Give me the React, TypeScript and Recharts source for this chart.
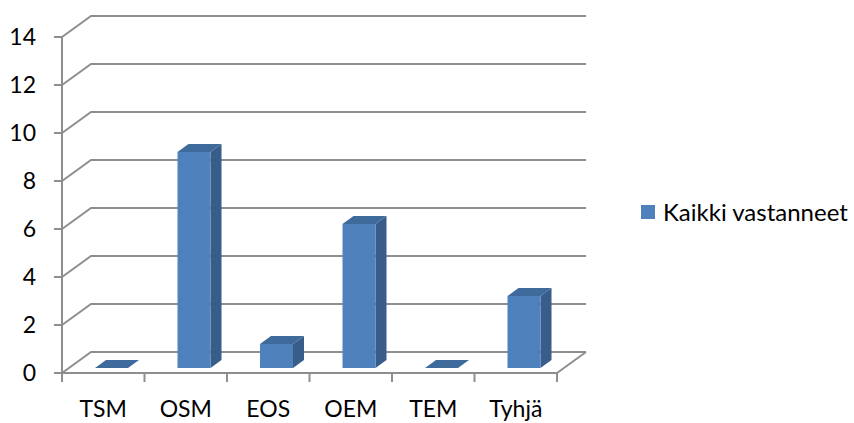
import React from 'react';
import { BarChart, Bar, XAxis, YAxis, CartesianGrid, Legend } from 'recharts';

// Vastausjakauma luokittain
const categories = ['TSM', 'OSM', 'EOS', 'OEM', 'TEM', 'Tyhjä'];
const kaikkiVastanneet = [0, 9, 1, 6, 0, 3];
const yTicks = [0, 2, 4, 6, 8, 10, 12, 14];
const seriesName = 'Kaikki vastanneet';

const data = categories.map((category, i) => ({ category, value: kaikkiVastanneet[i] }));

const FONT = 'Lato, "Noto Sans", sans-serif';
const AXIS_FONT_SIZE = 23;
const LEGEND_FONT_SIZE = 24;
const GRID = '#8e8e8e';
const FRONT = '#4f81bd';
const TOP = '#3f6a9c';
const SIDE = '#385d8a';

// back wall offset of the pseudo-3D plot
const DEPTH_X = 29;
const DEPTH_Y = 21;
// bars sit a little behind the front plane and have their own depth
const BAR_SHIFT_X = 8;
const BAR_SHIFT_Y = 5;
const BAR_DEPTH_X = 11;
const BAR_DEPTH_Y = 8;

const PLOT_LEFT = 62;
const PLOT_RIGHT = 557;
const X_TICK_SIZE = 9;
const X_TICK_MARGIN = 20;

// Each horizontal gridline: diagonal on the left side wall, then along the back wall
const GridLine3D = (props: any) => {
  const { x1, y1, x2, y, height } = props;
  const isFloor = Math.abs(y1 - (y + height)) < 0.5;
  return (
    <g>
      <path
        d={`M${x1},${y1} L${x1 + DEPTH_X},${y1 - DEPTH_Y} L${x2 + DEPTH_X},${y1 - DEPTH_Y}`}
        fill="none"
        stroke={GRID}
        strokeWidth={2}
      />
      {isFloor && (
        <path
          d={`M${x2},${y1} L${x2 + DEPTH_X},${y1 - DEPTH_Y}`}
          fill="none"
          stroke={GRID}
          strokeWidth={2}
        />
      )}
    </g>
  );
};

// Column drawn as a box: front face, top and right side
const Box3D = (props: any) => {
  const { x, y, width, height } = props;
  const fx = x + BAR_SHIFT_X;
  const fy = y - BAR_SHIFT_Y;
  const w = width;
  const h = Math.max(height || 0, 0);
  const top = `${fx},${fy} ${fx + BAR_DEPTH_X},${fy - BAR_DEPTH_Y} ${fx + w + BAR_DEPTH_X},${fy - BAR_DEPTH_Y} ${fx + w},${fy}`;
  const side = `${fx + w},${fy} ${fx + w + BAR_DEPTH_X},${fy - BAR_DEPTH_Y} ${fx + w + BAR_DEPTH_X},${fy + h - BAR_DEPTH_Y} ${fx + w},${fy + h}`;
  return (
    <g>
      {h > 0 && <polygon points={side} fill={SIDE} />}
      {h > 0 && <rect x={fx} y={fy} width={w} height={h} fill={FRONT} />}
      <polygon points={top} fill={TOP} />
    </g>
  );
};

// Category label with tick marks on the category boundaries
const XTick = (props: any) => {
  const { x, y, payload, index } = props;
  const half =
    payload && typeof payload.offset === 'number' && payload.offset > 0
      ? payload.offset
      : (PLOT_RIGHT - PLOT_LEFT) / categories.length / 2;
  const axisY = y - X_TICK_SIZE - X_TICK_MARGIN;
  const isLast = index === categories.length - 1;
  return (
    <g>
      <line x1={x - half} y1={axisY} x2={x - half} y2={axisY + X_TICK_SIZE} stroke={GRID} strokeWidth={2} />
      {isLast && (
        <line x1={x + half} y1={axisY} x2={x + half} y2={axisY + X_TICK_SIZE} stroke={GRID} strokeWidth={2} />
      )}
      <text x={x} y={axisY + 44} textAnchor="middle" fontFamily={FONT} fontSize={AXIS_FONT_SIZE} fill="#000">
        {payload.value}
      </text>
    </g>
  );
};

const LegendContent = (props: any) => {
  const item = props.payload && props.payload[0];
  return (
    <div style={{ display: 'flex', alignItems: 'center', fontFamily: FONT, fontSize: LEGEND_FONT_SIZE, color: '#000', whiteSpace: 'nowrap', lineHeight: '26px' }}>
      <span style={{ display: 'inline-block', width: 14, height: 14, background: item ? item.color : FRONT, marginRight: 8 }} />
      <span>{item ? item.value : seriesName}</span>
    </div>
  );
};

export default function App() {
  return (
    <div style={{ position: 'absolute', left: 0, top: 0 }}>
      <BarChart
        width={854}
        height={423}
        data={data}
        margin={{ top: 37, right: 854 - PLOT_RIGHT, bottom: 10, left: 0 }}
        barSize={33}
      >
        <CartesianGrid horizontal={GridLine3D} vertical={false} />
        <XAxis
          dataKey="category"
          interval={0}
          height={40}
          tickSize={X_TICK_SIZE}
          tickMargin={X_TICK_MARGIN}
          tickLine={false}
          axisLine={{ stroke: GRID, strokeWidth: 2 }}
          tick={<XTick />}
        />
        <YAxis
          domain={[0, 14]}
          ticks={yTicks}
          width={PLOT_LEFT}
          tickSize={8}
          tickMargin={18}
          axisLine={{ stroke: GRID, strokeWidth: 2 }}
          tickLine={{ stroke: GRID, strokeWidth: 2 }}
          tick={{ fontFamily: FONT, fontSize: AXIS_FONT_SIZE, fill: '#000' }}
          interval={0}
        />
        <Legend
          layout="horizontal"
          align="center"
          verticalAlign="middle"
          wrapperStyle={{ left: 641, top: 199, width: 'auto', height: 'auto' }}
          content={<LegendContent />}
        />
        <Bar
          dataKey="value"
          name={seriesName}
          fill={FRONT}
          shape={<Box3D />}
          isAnimationActive={false}
        />
      </BarChart>
    </div>
  );
}
